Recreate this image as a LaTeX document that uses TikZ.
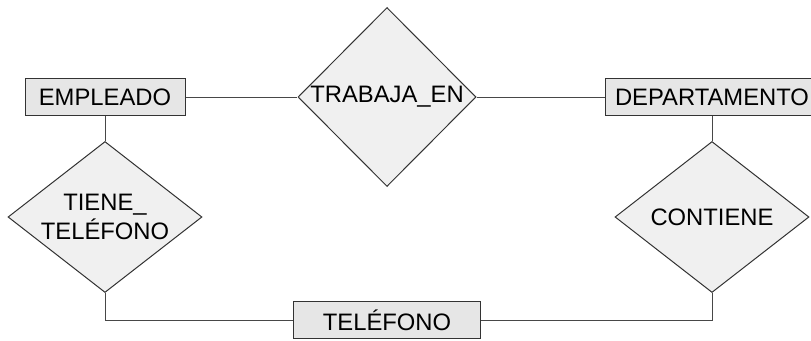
\documentclass[tikz,border=0pt]{standalone}
\usepackage{fontspec}
\setmainfont{Liberation Sans}
\usetikzlibrary{shapes.geometric}

\definecolor{entfill}{HTML}{E6E6E6}
\definecolor{relfill}{HTML}{F0F0F0}
\definecolor{edge}{HTML}{333333}

\begin{document}
\begin{tikzpicture}[
    x=1pt, y=-1pt,
    font=\fontsize{23.8}{28.6}\selectfont,
    ent/.style={draw=edge, fill=entfill, line width=1pt, inner sep=0pt, minimum height=37pt, minimum width=160pt},
    rel/.style={draw=edge, fill=relfill, line width=1pt, diamond, inner sep=0pt, minimum width=194pt, minimum height=151pt},
    every label/.style={align=center, inner sep=0pt},
    lin/.style={draw=edge!90, line width=1pt}
]
\useasboundingbox (0,0) rectangle (811,340);
% entidades
\node[ent] (emp) at (105,97) {EMPLEADO};
\node[ent, minimum width=214pt] (dep) at (712,97) {DEPARTAMENTO};
\node[ent, minimum width=187pt] (tel) at (387,320) {TEL\'EFONO};
% relaciones
\node[rel, minimum width=178pt, minimum height=179pt, label={center:TRABAJA\_EN}] (trab) at (387,97) {};
\node[rel, label={center:TIENE\_\\TEL\'EFONO}] (tiene) at (105,217) {};
\node[rel, label={center:CONTIENE}] (cont) at (712,217) {};
% enlaces
\draw[lin] (emp) -- (trab) -- (dep);
\draw[lin] (emp) -- (tiene);
\draw[lin] (dep) -- (cont);
\draw[lin] (tiene.south) |- (tel.west);
\draw[lin] (cont.south) |- (tel.east);
\end{tikzpicture}
\end{document}
